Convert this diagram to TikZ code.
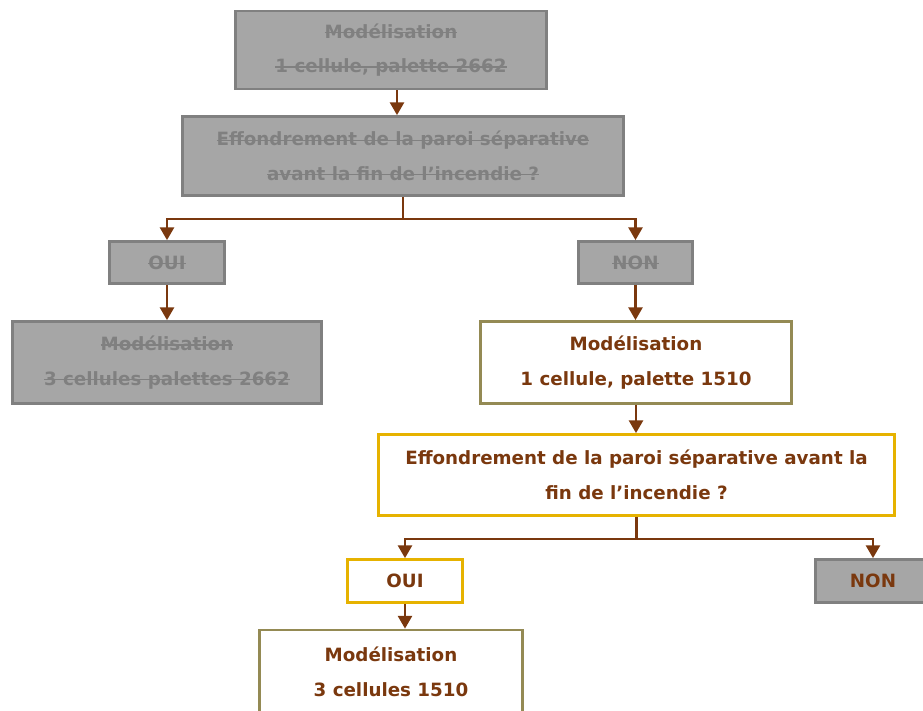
\documentclass[tikz,border=0pt]{standalone}
\usepackage{fontspec}
\setmainfont{DejaVu Sans}
\usepackage{tikz}
\usetikzlibrary{positioning, arrows.meta, calc}

\definecolor{boxgray}{RGB}{166,166,166}
\definecolor{edgegray}{RGB}{128,128,128}
\definecolor{txtbrown}{RGB}{122,56,14}
\definecolor{edgegold}{RGB}{230,178,0}
\definecolor{edgeolive}{RGB}{148,138,84}

% struck-out text
\newsavebox{\strkbox}
\newcommand{\strk}[1]{\sbox{\strkbox}{#1}\leavevmode\rlap{\rule[0.5ex]{\wd\strkbox}{0.9pt}}\usebox{\strkbox}}

\tikzset{
    box/.style={rectangle, line width=2pt, align=center, inner sep=0pt,
        font=\fontsize{13}{24.5}\selectfont\bfseries},
    oldbox/.style={box, draw=edgegray, fill=boxgray, text=edgegray},
    modbox/.style={box, draw=edgeolive, fill=white, text=txtbrown},
    askbox/.style={box, draw=edgegold, fill=white, text=txtbrown},
    link/.style={draw=txtbrown, line width=1.5pt},
    arr/.style={link, -{Triangle[width=10pt,length=9pt]}}
}

\begin{document}
\begin{tikzpicture}[x=0.025cm, y=-0.025cm]
    \useasboundingbox (0,0) rectangle (923,711);
    \clip (0,0) rectangle (923,711);
    % First study (struck out)
    \node[oldbox, minimum width=311*0.025cm, minimum height=78*0.025cm] (mod1) at (391,50)
        {\strk{Modélisation}\\\strk{1 cellule, palette 2662}};
    \node[oldbox, minimum width=441*0.025cm, minimum height=79*0.025cm] (ask1) at (403,156)
        {\strk{Effondrement de la paroi séparative}\\\strk{avant la fin de l’incendie ?}};
    \node[oldbox, minimum width=115*0.025cm, minimum height=42*0.025cm] (oui1) at (167,262.5)
        {\strk{OUI}};
    \node[oldbox, minimum width=114*0.025cm, minimum height=42*0.025cm] (non1) at (635.5,262.5)
        {\strk{NON}};
    \node[oldbox, minimum width=309*0.025cm, minimum height=82*0.025cm] (mod3a) at (167,362.5)
        {\strk{Modélisation}\\\strk{3 cellules palettes 2662}};
    % Second study
    \node[modbox, minimum width=311*0.025cm, minimum height=82*0.025cm] (mod1b) at (636,362.5)
        {Modélisation\\1 cellule, palette 1510};
    \node[askbox, minimum width=516*0.025cm, minimum height=81*0.025cm] (ask2) at (636.5,475)
        {Effondrement de la paroi séparative avant la\\fin de l’incendie ?};
    \node[askbox, minimum width=115*0.025cm, minimum height=43*0.025cm] (oui2) at (405,581)
        {OUI};
    \node[oldbox, text=txtbrown, minimum width=115*0.025cm, minimum height=43*0.025cm] (non2) at (873,581)
        {NON};
    \node[modbox, minimum width=263*0.025cm, minimum height=84*0.025cm] (mod3b) at (391,672)
        {Modélisation\\3 cellules 1510};
    % Connectors
    \draw[arr] ([xshift=0.15cm]mod1.south) -- ([xshift=0.15cm]mod1.south |- ask1.north);
    \coordinate (j1) at ([yshift=-0.55cm]ask1.south);
    \draw[link] (ask1.south) -- (j1);
    \draw[arr] (j1) -| (oui1.north);
    \draw[arr] (j1) -| (non1.north);
    \draw[arr] (oui1) -- (mod3a);
    \draw[arr] (non1.south) -- (non1.south |- mod1b.north);
    \draw[arr] (mod1b.south) -- (mod1b.south |- ask2.north);
    \coordinate (j2) at ([yshift=-0.55cm]ask2.south);
    \draw[link] (ask2.south) -- (j2);
    \draw[arr] (j2) -| (oui2.north);
    \draw[arr] (j2) -| (non2.north);
    \draw[arr] (oui2.south) -- (oui2.south |- mod3b.north);
\end{tikzpicture}
\end{document}
